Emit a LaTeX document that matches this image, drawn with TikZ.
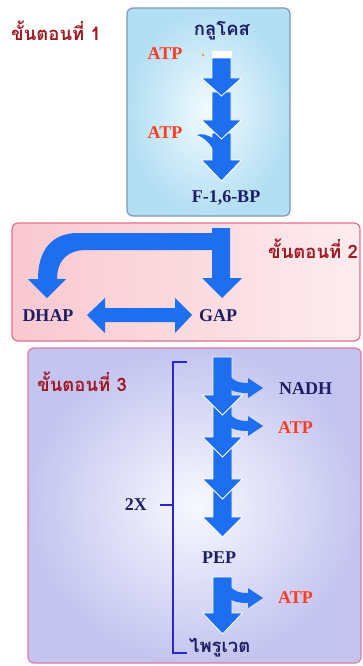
\documentclass[tikz,border=0pt]{standalone}
\usepackage{fontspec}
\setmainfont{Liberation Serif}
\newfontfamily\thai[Script=Thai]{Loma}
\definecolor{arrowblue}{RGB}{30,110,240}
\definecolor{navy}{RGB}{30,30,100}
\definecolor{stepred}{RGB}{160,25,35}
\definecolor{atpred}{RGB}{255,60,30}
\definecolor{brblue}{RGB}{40,40,210}
\newcommand\DownArr[4]{\fill[arrowblue, draw=white, line width=0.8pt, line join=miter] (#1-9.5,#2) -- (#1+9.5,#2) -- (#1+9.5,#3) -- (#1+20,#3) -- (#1,#4) -- (#1-20,#3) -- (#1-9.5,#3) -- cycle;}
\newcommand\SideArr[1]{\fill[arrowblue] (230,#1-12) .. controls (235,#1-6) and (240,#1-5) .. (248,#1-5) -- (248,#1-10) -- (263,#1) -- (248,#1+10) -- (248,#1+5) .. controls (240,#1+5) and (234,#1+4) .. (230,#1+1) -- cycle;}
\tikzset{
  lat/.style={font=\bfseries\fontsize{18}{20}\selectfont, inner sep=0pt},
  thlab/.style={font=\thai\bfseries\fontsize{18.5}{21}\selectfont, inner sep=0pt},
  navytxt/.style={lat, text=navy},
  atptxt/.style={lat, text=atpred},
  steptxt/.style={thlab, text=stepred},
}
\begin{document}
\begin{tikzpicture}[x=1pt,y=-1pt]
\useasboundingbox (0,0) rectangle (363,666);
\fill[white] (0,0) rectangle (363,666);
% boxes
\shade[rounded corners=6pt, inner color={rgb,255:red,242;green,251;blue,254}, outer color={rgb,255:red,178;green,222;blue,244}] (127,8) rectangle (290,216);
\draw[rounded corners=6pt, line width=1.2pt, draw={rgb,255:red,130;green,150;blue,185}] (127,8) rectangle (290,216);
\shade[rounded corners=6pt, left color={rgb,255:red,249;green,200;blue,208}, right color={rgb,255:red,253;green,236;blue,238}] (12,223) rectangle (360,341);
\draw[rounded corners=6pt, line width=1.2pt, draw={rgb,255:red,230;green,110;blue,140}] (12,223) rectangle (360,341);
\shade[rounded corners=6pt, inner color={rgb,255:red,248;green,248;blue,255}, outer color={rgb,255:red,196;green,196;blue,240}] (28,348) rectangle (361,663);
\draw[rounded corners=6pt, line width=1.2pt, draw={rgb,255:red,225;green,120;blue,160}] (28,348) rectangle (361,663);
% stage 1
\node[steptxt] (s1) at (56,31) {ขั้นตอนที่ 1};
\node[thlab, text=navy] (glu) at (222,31) {กลูโคส};
\node[atptxt] (atp1) at (165,54) {ATP};
\node[atptxt] (atp2) at (165,133) {ATP};
\node[navytxt] (f16) at (226,198) {F-1,6-BP};
\DownArr{221.5}{133}{160}{181}
\fill[arrowblue] (213,138) .. controls (207,135) and (202,133) .. (197,135) .. controls (203,137) and (208,141) .. (213,149) -- cycle;
\DownArr{221.5}{92}{120}{139}
\DownArr{221.5}{58}{78}{96}
\fill[white] (212,51) rectangle (232,58);
\fill[orange] (203,55) circle (1.2);
% stage 2
\node[steptxt] (s2) at (313,249) {ขั้นตอนที่ 2};
\node[navytxt] (dhap) at (48,316) {DHAP};
\node[navytxt] (gap) at (218,316) {GAP};
\fill[arrowblue] (230,228) -- (230,278) -- (242,278) -- (222,298) -- (202,278) -- (212,278) -- (212,250) -- (86,250) .. controls (68,250) and (57,260) .. (57,279) -- (66,279) -- (47,298) -- (28,279) -- (38,279) .. controls (38,250) and (52,233) .. (78,233) -- (212,233) -- (212,228) -- cycle;
\fill[arrowblue] (87,315) -- (105,298) -- (105,308) -- (175,308) -- (175,298) -- (192,315) -- (175,333) -- (175,322) -- (105,322) -- (105,333) -- cycle;
% stage 3
\node[steptxt] (s3) at (82,382) {ขั้นตอนที่ 3};
\draw[brblue, line width=1.2pt] (187,362) -- (173,362) -- (173,653) -- (187,653);
\draw[brblue, line width=1.2pt] (173,505) -- (160,505);
\node[navytxt, anchor=east] (two) at (147,505) {2X};
\DownArr{222.5}{480}{517}{537}
\DownArr{222.5}{440}{479}{499}
\DownArr{222.5}{400}{437}{457}
\DownArr{222.5}{357}{395}{415}
\SideArr{388}
\SideArr{426}
\node[navytxt, anchor=west] (nadh) at (279,389) {NADH};
\node[atptxt, anchor=west] (atp3) at (278,428) {ATP};
\node[navytxt] (pep) at (219,558) {PEP};
\DownArr{222.5}{577}{613}{634}
\SideArr{598}
\node[atptxt, anchor=west] (atp4) at (278,598) {ATP};
\node[thlab, text=navy, anchor=west] (pyr) at (189,648) {ไพรูเวต};
\end{tikzpicture}
\end{document}
